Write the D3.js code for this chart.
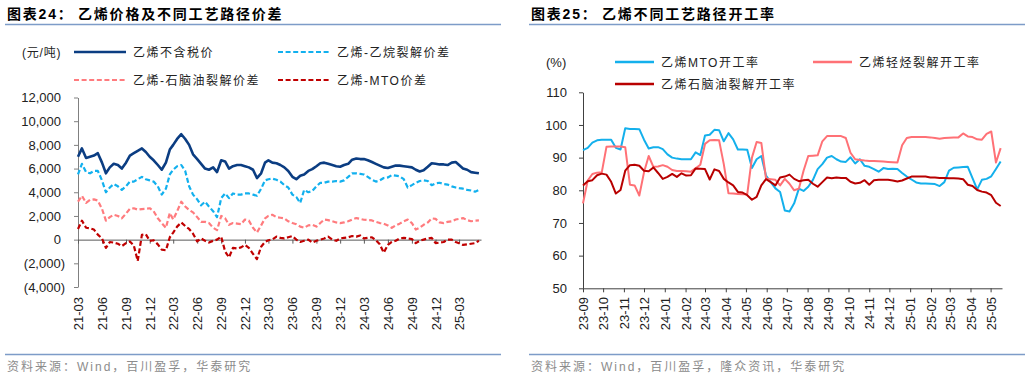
<!DOCTYPE html>
<html lang="zh">
<head>
<meta charset="UTF-8">
<title>乙烯价差与开工率</title>
<script src="https://d3js.org/d3.v7.min.js"></script>
<style>
    body { margin: 0; background: #fff; }
    svg { display: block; font-family: "Liberation Sans", Arial, "Noto Sans CJK SC", sans-serif; }
    .title { font-size: 14px; font-weight: bold; letter-spacing: 1.8px; fill: #000; }
    .legend { font-size: 12px; letter-spacing: 1.5px; fill: #222; }
    .source { font-size: 12px; letter-spacing: 2px; fill: #8c8c8c; }
    .axis text { font-size: 13px; fill: #222; font-family: "Liberation Sans", Arial, sans-serif; }
</style>
</head>
<body>
<svg width="1030" height="378"></svg>
<script>
// ---- 图表24: half-monthly points from 2021-03 (元/吨)
var priceSeries = [
    7000, 7700, 6900, 7000, 7100, 7300, 6500, 5600, 6100, 6400, 6300, 6000,
    6500, 7100, 7300, 7500, 7700, 7400, 7000, 6700, 6300, 5900, 6500, 7600,
    8000, 8500, 8900, 8500, 8000, 7200, 6800, 6400, 6000, 5900, 6100, 5700,
    6700, 6600, 6000, 6200, 6300, 6300, 6200, 6100, 5900, 5200, 5600, 6500,
    6700, 6500, 6450, 6300, 6100, 5800, 5300, 5100, 5400, 5500, 5800, 5950,
    6200, 6450, 6500, 6400, 6300, 6200, 6150, 6300, 6400, 6750, 6850, 6800,
    6800, 6700, 6550, 6400, 6250, 6100, 6050, 6150, 6250, 6250, 6200, 6150,
    6100, 5900, 5750, 5850, 6150, 6450, 6400, 6350, 6350, 6300, 6500, 6550,
    6300, 6000, 5900, 5700, 5650, 5600
];
var ethaneSpread = [
    5500, 6400, 5700, 5600, 5800, 5800, 5000, 4000, 4400, 4700, 4500, 4200,
    4500, 4900, 4900, 5100, 5300, 5100, 5000, 4900, 4500, 3800, 4300, 5500,
    5900, 6200, 6300, 5800, 4500, 3800, 3400, 2900, 3200, 2800, 2400, 1900,
    3500, 3900, 3500, 3900, 3800, 3800, 3900, 3900, 3800, 3700, 4300, 5000,
    5100, 5150, 5050, 4900, 4600, 4400, 3800, 3600, 3100, 4200, 4000, 4100,
    4500, 4800, 4800, 4900, 4900, 4950, 4900, 5000, 5300, 5600, 5600, 5550,
    5500, 5300, 5050, 4900, 5000, 5200, 5250, 5450, 5400, 5350, 5100, 4400,
    4600, 4800, 4950, 5000, 4950, 4600, 4750, 4800, 4700, 4650, 4500, 4400,
    4350, 4300, 4200, 4150, 4050, 4200
];
var naphthaSpread = [
    3200, 3700, 3100, 3350, 3400, 3300, 2600, 1600, 1900, 2100, 2000, 1800,
    2200, 2600, 2650, 2530, 2580, 2600, 2650, 2400, 1800, 1400, 1000, 2250,
    1700, 2400, 3200, 2800, 2500, 2300, 1900, 1500, 1500, 1400, 1000, 800,
    2000, 1800, 1250, 1400, 1350, 1300, 1700, 1600, 1000, 600, 1200, 1800,
    2000, 2100, 1900, 1850, 1800, 1550, 1400, 1300, 1100, 1000, 1200, 1250,
    1100, 1400, 1700, 1650, 1550, 1450, 1400, 1450, 1550, 1700, 1820, 1750,
    1680, 1650, 1620, 1500, 1400, 1350, 1200, 1000, 1200, 1350, 1550, 1700,
    1400, 850, 1000, 1250, 1450, 1800, 1750, 1450, 1400, 1500, 1550, 1700,
    1750, 1820, 1650, 1550, 1600, 1620
];
var mtoSpread = [
    900, 1600, 1000, 950, 850, 420, 100, -700, -200, -250, -350, -550,
    -300, -150, -500, -1800, 400, 450, -100, -50, -400, -850, -900, 200,
    600, 1100, 1450, 1150, 900, 500, -150, 100, -100, -250, -100, 0,
    250, -1000, -1500, -700, -750, -650, -450, -700, -1200, -1650, -600, -200,
    -50, 0, 250, 150, 100, 200, 300, 0, -200, -100, 0, -250,
    -100, 0, 100, 250, 0, -100, 100, 150, 200, 300, 250, 350,
    100, 150, 200, -50, -400, -1100, -450, -200, -100, 100, 150, 100,
    50, -300, -100, 0, 100, 150, -300, -250, -200, 0, 0, -200,
    -300, -450, -400, -350, -300, -100
];
var leftTickLabels = ["21-03","21-06","21-09","21-12","22-03","22-06","22-09","22-12",
    "23-03","23-06","23-09","23-12","24-03","24-06","24-09","24-12","25-03"];
var leftYTicks = [-4000, -2000, 0, 2000, 4000, 6000, 8000, 10000, 12000];

// ---- 图表25: weekly points from 2023-09-01 (%)
var mtoRate = [
    92.3, 93, 94.6, 95.3, 95.5, 95.5, 95.5, 93, 92.5, 99,
    98.8, 98.8, 98.7, 95.5, 92.8, 93.2, 93.2, 92.6, 91, 90,
    89.7, 89.5, 89.5, 89.5, 91.6, 90.8, 96.8, 97, 98.5, 98.4,
    95, 97.5, 95.6, 92.5, 92.5, 92.4, 86.8, 89.5, 90.5, 84.5,
    82.5, 80.6, 79.5, 73.8, 73.5, 76, 80.5, 79.8, 81.1, 83.2,
    86.5, 88, 90, 90.5, 89.5, 88.8, 88.7, 90.1, 88.2, 89.5,
    87.5, 87.2, 86.5, 85.7, 86.8, 86.5, 86.6, 86.5, 85.3, 84.2,
    83.3, 82.4, 82.1, 82.1, 82, 81.9, 81.3, 82.5, 86, 86.9,
    87, 87.1, 87.2, 83.7, 80.3, 83.2, 83.5, 84.3, 86.5, 88.8
];
var lightRate = [
    76, 83, 85, 85.4, 85.5, 93.3, 93.4, 93.4, 93.4, 93.2,
    81.7, 81.5, 78.4, 85.5, 90.5, 87.2, 87.3, 87.7, 87.2, 86.2,
    85.9, 85.9, 85.8, 85.7, 86.7, 87.8, 94.2, 95.3, 95.4, 95.3,
    88, 79.1, 79, 78.9, 78.8, 78.8, 90, 94.8, 94.5, 83.6,
    83.4, 83.2, 81.5, 83.5, 82, 80, 80.5, 86, 90.5, 90.6,
    90.7, 95, 96.6, 96.6, 96.6, 96.6, 96, 91.5, 89.5, 89.3,
    89.1, 89, 89, 88.9, 88.8, 88.7, 88.6, 88.5, 93.8, 96,
    96.3, 96.3, 96.3, 96.3, 96.2, 96, 95.8, 96, 96.1, 96.2,
    96.2, 97.4, 96.5, 96.3, 95.6, 95.5, 97.3, 98, 88.5, 92.9
];
var naphthaRate = [
    81.5, 82.8, 83.1, 84.6, 85.1, 84.8, 82.6, 79, 80.1, 86,
    87.7, 87.8, 87.5, 86, 85.8, 87, 85.3, 83.5, 84.1, 85,
    84.1, 85.2, 84.5, 84.6, 86.7, 86.6, 86.5, 83.3, 86.4, 85.9,
    83.5, 82.4, 81.5, 79.5, 79.3, 78.5, 77.1, 78, 81.5, 83.4,
    82.5, 81.5, 83.9, 84.2, 84.8, 83.5, 82.8, 83.1, 83.2, 82,
    81.1, 82.5, 83.9, 83.7, 83.9, 83.8, 83.8, 82.6, 82.1, 82.3,
    83.1, 81.7, 83.1, 83.2, 83.2, 83.2, 83, 82.7, 83, 83.6,
    84.2, 84.2, 84.2, 84.2, 83.9, 83.9, 83.8, 83.8, 83.7, 83.7,
    83.6, 83.4, 81.7, 81.3, 80.1, 79.6, 79.3, 78.5, 76.2, 75.2
];
var rightTickLabels = ["23-09","23-10","23-11","23-12","24-01","24-02","24-03","24-04",
    "24-05","24-06","24-07","24-08","24-09","24-10","24-11","24-12","25-01","25-02",
    "25-03","25-04","25-05"];
var rightYTicks = [50, 60, 70, 80, 90, 100, 110];

var svg = d3.select("svg");
var parseYM = d3.timeParse("%y-%m");
var ruleColor = "#7d9cc8";

// headers and footers
function frame(x0, x1, num, title, source) {
    svg.append("text").attr("class", "title").attr("x", x0 + 2).attr("y", 19).text(num);
    svg.append("text").attr("class", "title").attr("x", x0 + 73).attr("y", 19).text(title);
    svg.append("line").attr("x1", x0).attr("x2", x1).attr("y1", 24.5).attr("y2", 24.5)
        .attr("stroke", ruleColor).attr("stroke-width", 1.5);
    svg.append("line").attr("x1", x0).attr("x2", x1).attr("y1", 354.5).attr("y2", 354.5)
        .attr("stroke", ruleColor).attr("stroke-width", 1.5);
    svg.append("text").attr("class", "source").attr("x", x0 + 2).attr("y", 371).text(source);
}
frame(5, 501, "图表24：", "乙烯价格及不同工艺路径价差", "资料来源：Wind，百川盈孚，华泰研究");
frame(529, 1025, "图表25：", "乙烯不同工艺路径开工率", "资料来源：Wind，百川盈孚，隆众资讯，华泰研究");

function legendItem(x, y, color, dash, width, len, label) {
    svg.append("line").attr("x1", x).attr("x2", x + len).attr("y1", y).attr("y2", y)
        .attr("stroke", color).attr("stroke-width", width)
        .attr("stroke-dasharray", dash);
    svg.append("text").attr("class", "legend").attr("x", x + len + 7).attr("y", y + 4.5).text(label);
}

// ================= left chart =================
var leftDates = d3.range(priceSeries.length).map(function(i) {
    return new Date(2021, 2 + Math.floor(i / 2), i % 2 ? 16 : 1);
});
var x1 = d3.scaleTime().domain([new Date(2021, 2, 1), new Date(2025, 4, 24)]).range([78, 481]);
var y1 = d3.scaleLinear().domain([-4000, 12000]).range([287, 97.5]);

var fmt = d3.format(",");
var yAxis1 = svg.append("g").attr("class", "axis").attr("transform", "translate(78,0)")
    .call(d3.axisLeft(y1).tickValues(leftYTicks).tickSize(4).tickSizeOuter(0)
        .tickFormat(function(d) { return d < 0 ? "(" + fmt(-d) + ")" : fmt(d); }));
yAxis1.selectAll("text").attr("x", function(d) { return d < 0 ? -13 : -17; });
yAxis1.selectAll("path, line").attr("stroke", "#808080");

var xAxis1 = svg.append("g").attr("class", "axis").attr("transform", "translate(0," + y1(0) + ")")
    .call(d3.axisBottom(x1).tickValues(leftTickLabels.map(parseYM)).tickSize(4).tickSizeOuter(0)
        .tickFormat(d3.timeFormat("%y-%m")));
xAxis1.selectAll("path, line").attr("stroke", "#595959");
xAxis1.selectAll("text")
    .attr("x", 0).attr("y", 0).attr("dy", "0.35em")
    .style("text-anchor", "end")
    .attr("transform", "translate(0," + (297 - y1(0)) + ") rotate(-90)");

var leftSeries = [
    {values: priceSeries, color: "#0b3d82", dash: null, width: 2.6},
    {values: ethaneSpread, color: "#12b0ee", dash: "5,2.6", width: 2.2},
    {values: naphthaSpread, color: "#ff7b7e", dash: "5,2.6", width: 2.2},
    {values: mtoSpread, color: "#c00000", dash: "5,2.6", width: 2.2}
];
leftSeries.forEach(function(s) {
    var line = d3.line()
        .x(function(d, i) { return x1(leftDates[i]); })
        .y(function(d) { return y1(d); });
    svg.append("path").datum(s.values)
        .attr("fill", "none").attr("stroke", s.color).attr("stroke-width", s.width)
        .attr("stroke-dasharray", s.dash).attr("stroke-linejoin", "round")
        .attr("d", line);
});

svg.append("text").attr("class", "legend").attr("x", 22).attr("y", 56.5).style("letter-spacing", "0.8px").text("(元/吨)");
legendItem(74, 52, "#0b3d82", null, 2.5, 52, "乙烯不含税价");
legendItem(278, 52, "#12b0ee", "5,2.6", 2.2, 52, "乙烯-乙烷裂解价差");
legendItem(74, 80, "#ff7b7e", "5,2.6", 2.2, 52, "乙烯-石脑油裂解价差");
legendItem(278, 80, "#c00000", "5,2.6", 2.2, 52, "乙烯-MTO价差");

// ================= right chart =================
var rightDates = d3.range(mtoRate.length).map(function(i) {
    return d3.timeDay.offset(new Date(2023, 8, 1), 7 * i);
});
var x2 = d3.scaleTime().domain([new Date(2023, 8, 1), new Date(2025, 4, 18)]).range([583, 1002]);
var y2 = d3.scaleLinear().domain([50, 110]).range([288.3, 92.3]);

var yAxis2 = svg.append("g").attr("class", "axis").attr("transform", "translate(583,0)")
    .call(d3.axisLeft(y2).tickValues(rightYTicks).tickSize(4).tickSizeOuter(0));
yAxis2.selectAll("text").attr("x", -16);
yAxis2.selectAll("path, line").attr("stroke", "#404040");

var xAxis2 = svg.append("g").attr("class", "axis").attr("transform", "translate(0," + y2(50) + ")")
    .call(d3.axisBottom(x2).tickValues(rightTickLabels.map(parseYM)).tickSize(4).tickSizeOuter(0)
        .tickFormat(d3.timeFormat("%y-%m")));
xAxis2.selectAll("path, line").attr("stroke", "#404040");
xAxis2.selectAll("text")
    .attr("x", 0).attr("y", 0).attr("dy", "0.35em")
    .style("text-anchor", "end")
    .attr("transform", "translate(0," + (297 - y2(50)) + ") rotate(-90)");

var rightSeries = [
    {values: mtoRate, color: "#14b0ec"},
    {values: lightRate, color: "#ff7176"},
    {values: naphthaRate, color: "#b80000"}
];
rightSeries.forEach(function(s) {
    var line = d3.line()
        .x(function(d, i) { return x2(rightDates[i]); })
        .y(function(d) { return y2(d); });
    svg.append("path").datum(s.values)
        .attr("fill", "none").attr("stroke", s.color).attr("stroke-width", 2)
        .attr("stroke-linejoin", "round")
        .attr("d", line);
});

svg.append("text").attr("class", "legend").attr("x", 546).attr("y", 66.5).style("letter-spacing", "0px").style("font-size", "13px").text("(%)");
legendItem(615, 62, "#14b0ec", null, 2.5, 39, "乙烯MTO开工率");
legendItem(813, 62, "#ff7176", null, 2.5, 39, "乙烯轻烃裂解开工率");
legendItem(615, 84, "#b80000", null, 2.5, 39, "乙烯石脑油裂解开工率");
</script>
</body>
</html>
